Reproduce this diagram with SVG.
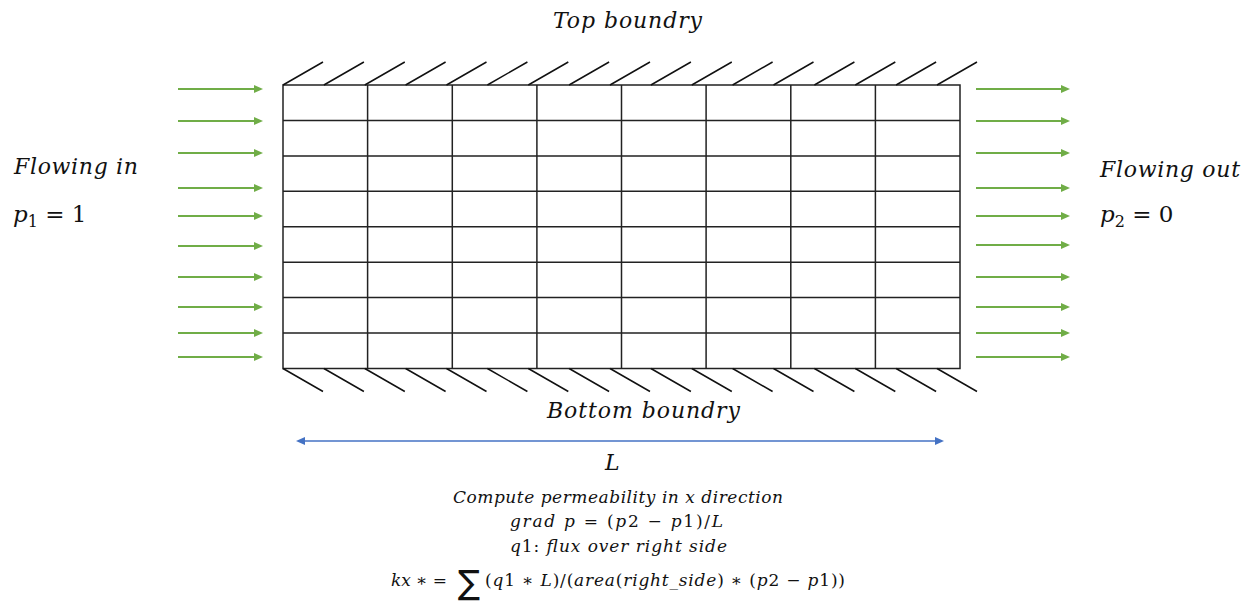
<svg xmlns="http://www.w3.org/2000/svg" width="1253" height="604" viewBox="0 0 1253 604">
<style>
.t{font-family:"DejaVu Serif","Liberation Serif",serif;font-style:italic;fill:#111}
.u{font-style:normal}
.grid{fill:none;stroke:#222;stroke-width:1.5}
.hatch{fill:none;stroke:#111;stroke-width:1.5}
.ga{stroke:#70AD47;stroke-width:2;fill:none}
.ba{stroke:#4472C4;stroke-width:1.5;fill:none}
</style>
<defs>
<marker id="mg" markerUnits="userSpaceOnUse" viewBox="0 0 9 8" refX="1" refY="4" markerWidth="9" markerHeight="8" orient="auto"><path d="M0,0 L9,4 L0,8 z" fill="#70AD47"/></marker>
<marker id="mb" markerUnits="userSpaceOnUse" viewBox="0 0 9 8" refX="1" refY="4" markerWidth="9" markerHeight="8" orient="auto-start-reverse"><path d="M0,0 L9,4 L0,8 z" fill="#4472C4"/></marker>
</defs>

<g id="domain">
<rect class="grid" x="283" y="85" width="677" height="283.5"/>
<path class="grid" d="M367.6,85V368.5M452.3,85V368.5M536.9,85V368.5M621.5,85V368.5M706.1,85V368.5M790.8,85V368.5M875.4,85V368.5M283,120.4H960M283,155.9H960M283,191.3H960M283,226.8H960M283,262.2H960M283,297.6H960M283,333.1H960"/>
</g>

<g id="top-boundary">
<path class="hatch" d="M283,85l40,-23M323.9,85l40,-23M364.8,85l40,-23M405.6,85l40,-23M446.5,85l40,-23M487.4,85l40,-23M528.3,85l40,-23M569.1,85l40,-23M610,85l40,-23M650.9,85l40,-23M691.8,85l40,-23M732.6,85l40,-23M773.5,85l40,-23M814.4,85l40,-23M855.3,85l40,-23M896.1,85l40,-23M937,85l40,-23"/>
<text class="t" x="553" y="28" font-size="22" textLength="149">Top boundry</text>
</g>

<g id="bottom-boundary">
<path class="hatch" d="M283,368.5l40,23M323.9,368.5l40,23M364.8,368.5l40,23M405.6,368.5l40,23M446.5,368.5l40,23M487.4,368.5l40,23M528.3,368.5l40,23M569.1,368.5l40,23M610,368.5l40,23M650.9,368.5l40,23M691.8,368.5l40,23M732.6,368.5l40,23M773.5,368.5l40,23M814.4,368.5l40,23M855.3,368.5l40,23M896.1,368.5l40,23M937,368.5l40,23"/>
<text class="t" x="547" y="418" font-size="22" textLength="193">Bottom boundry</text>
</g>

<g id="inflow">
<text class="t" x="14" y="174" font-size="22" textLength="124">Flowing in</text>
<text class="t" x="13" y="222" font-size="23">p<tspan class="u" font-size="16" dy="5">1</tspan><tspan class="u" dy="-5"> = 1</tspan></text>
</g>

<g id="outflow">
<text class="t" x="1100" y="177" font-size="22" textLength="140">Flowing out</text>
<text class="t" x="1100" y="222" font-size="23">p<tspan class="u" font-size="16" dy="5">2</tspan><tspan class="u" dy="-5"> = 0</tspan></text>
</g>

<g id="length">
<text class="t" x="605" y="470" font-size="22">L</text>
</g>

<g id="formula">
<text class="t" x="453" y="503" font-size="17" textLength="330">Compute permeability in x direction</text>
<text class="t" x="510" y="527" font-size="17" textLength="213">grad p <tspan class="u">=</tspan> <tspan class="u">(</tspan>p<tspan class="u">2 − </tspan>p<tspan class="u">1)/</tspan>L</text>
<text class="t" x="510" y="552" font-size="17" textLength="217">q<tspan class="u">1: </tspan>flux over right side</text>
<text class="t" x="391" y="586" font-size="17" textLength="56">kx <tspan class="u">∗ =</tspan></text>
<text x="458" y="594" font-size="33" font-family="DejaVu Sans,sans-serif" fill="#111">∑</text>
<text class="t" x="485" y="586" font-size="17" textLength="360"><tspan class="u">(</tspan>q<tspan class="u">1 ∗ </tspan>L<tspan class="u">)/(</tspan>area<tspan class="u">(</tspan>right_side<tspan class="u">) ∗ (</tspan>p<tspan class="u">2 − </tspan>p<tspan class="u">1))</tspan></text>
</g>

<g id="connectors">
<g class="ga">
<path d="M178,89H255" marker-end="url(#mg)"/>
<path d="M178,121H255" marker-end="url(#mg)"/>
<path d="M178,153H255" marker-end="url(#mg)"/>
<path d="M178,188H255" marker-end="url(#mg)"/>
<path d="M178,216H255" marker-end="url(#mg)"/>
<path d="M178,246H255" marker-end="url(#mg)"/>
<path d="M178,277H255" marker-end="url(#mg)"/>
<path d="M178,307H255" marker-end="url(#mg)"/>
<path d="M178,333H255" marker-end="url(#mg)"/>
<path d="M178,357H255" marker-end="url(#mg)"/>
<path d="M976,89H1062" marker-end="url(#mg)"/>
<path d="M976,121H1062" marker-end="url(#mg)"/>
<path d="M976,153H1062" marker-end="url(#mg)"/>
<path d="M976,188H1062" marker-end="url(#mg)"/>
<path d="M976,216H1062" marker-end="url(#mg)"/>
<path d="M976,245H1062" marker-end="url(#mg)"/>
<path d="M976,277H1062" marker-end="url(#mg)"/>
<path d="M976,307H1062" marker-end="url(#mg)"/>
<path d="M976,333H1062" marker-end="url(#mg)"/>
<path d="M976,357H1062" marker-end="url(#mg)"/>
</g>
<path class="ba" d="M304,441H936" marker-start="url(#mb)" marker-end="url(#mb)"/>
</g>
</svg>
